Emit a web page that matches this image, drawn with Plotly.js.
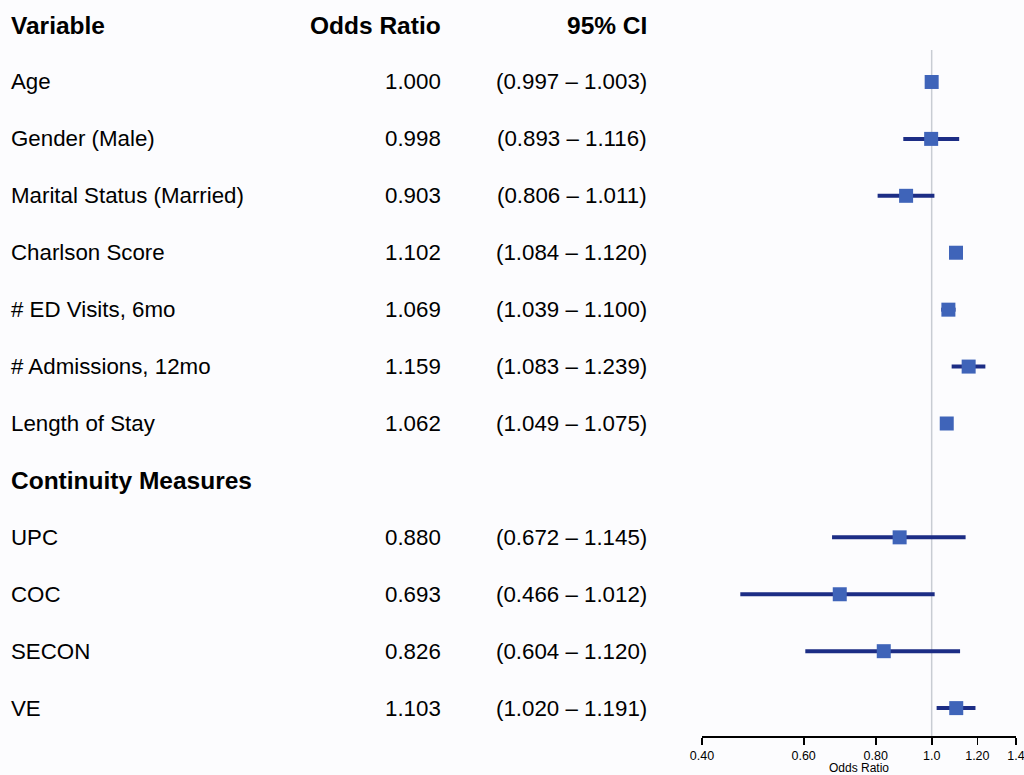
<!DOCTYPE html>
<html>
<head>
<meta charset="utf-8">
<script src="https://cdn.plot.ly/plotly-3.0.1.min.js"></script>
<style>
  html, body { margin: 0; padding: 0; background: #fcfcfe; }
  #chart { width: 1024px; height: 775px; }
</style>
</head>
<body>
<div id="chart"></div>
<script>
// ---- Data ----
const headers = ["Variable", "Odds Ratio", "95% CI"];
const variables = ["Age", "Gender (Male)", "Marital Status (Married)", "Charlson Score",
  "# ED Visits, 6mo", "# Admissions, 12mo", "Length of Stay", "Continuity Measures",
  "UPC", "COC", "SECON", "VE"];
const isSection = [false, false, false, false, false, false, false, true, false, false, false, false];
const oddsRatio = [1.000, 0.998, 0.903, 1.102, 1.069, 1.159, 1.062, null, 0.880, 0.693, 0.826, 1.103];
const ciLow     = [0.997, 0.893, 0.806, 1.084, 1.039, 1.083, 1.049, null, 0.672, 0.466, 0.604, 1.020];
const ciHigh    = [1.003, 1.116, 1.011, 1.120, 1.100, 1.239, 1.075, null, 1.145, 1.012, 1.120, 1.191];
const tickVals  = [0.4, 0.6, 0.8, 1.0, 1.2, 1.4];
const tickText  = ["0.40", "0.60", "0.80", "1.0", "1.20", "1.4"];

// ---- Build ----
const rows = variables.map((_, i) => i + 1);   // row 0 is the header
const fmt = v => v.toFixed(3);

const FONT = "Liberation Sans, Arial, Helvetica, sans-serif";
const annotations = [];
const colX = {variable: 11, or: 441, ci: 647};

function addText(text, x, y, anchor, bold) {
  annotations.push({
    xref: "x2", yref: "y", x: x, y: y, text: bold ? "<b>" + text + "</b>" : text,
    showarrow: false, xanchor: anchor, yanchor: "middle",
    borderpad: 0, borderwidth: 0,
    font: {family: FONT, size: bold ? 24.5 : 22.3, color: "#000000"}
  });
}
addText(headers[0], colX.variable, 0, "left", true);
addText(headers[1], colX.or, 0, "right", true);
addText(headers[2], colX.ci, 0, "right", true);
variables.forEach((v, i) => {
  addText(v, colX.variable, rows[i], "left", isSection[i]);
  if (oddsRatio[i] !== null) {
    addText(fmt(oddsRatio[i]), colX.or, rows[i], "right", false);
    addText("(" + fmt(ciLow[i]) + " \u2013 " + fmt(ciHigh[i]) + ")", colX.ci, rows[i], "right", false);
  }
});

const trace = {
  type: "scatter", mode: "markers",
  x: oddsRatio, y: rows, xaxis: "x", yaxis: "y",
  marker: {symbol: "square", size: 14, color: "#3f64b9", line: {width: 0}},
  error_x: {
    type: "data", symmetric: false,
    array: oddsRatio.map((v, i) => v === null ? null : ciHigh[i] - v),
    arrayminus: oddsRatio.map((v, i) => v === null ? null : v - ciLow[i]),
    color: "#1c2d85", thickness: 4, width: 0
  },
  hoverinfo: "skip", showlegend: false, cliponaxis: false
};

const W = 1016; // plot width (margin l=0, r=8)
const layout = {
  width: 1024, height: 775,
  margin: {l: 0, r: 8, t: 0, b: 39},
  paper_bgcolor: "#fcfcfe", plot_bgcolor: "#fcfcfe",
  showlegend: false,
  xaxis: {
    type: "log", domain: [702 / W, 1],
    range: [Math.log10(0.39995), Math.log10(1.40005)],
    tickvals: tickVals, ticktext: tickText,
    ticks: "outside", ticklen: 7, tickwidth: 1.7, tickcolor: "#000",
    ticklabeloverflow: "allow",
    showline: true, linecolor: "#000", linewidth: 1.7,
    showgrid: false, zeroline: false,
    tickfont: {family: FONT, size: 12.5, color: "#000"},
    title: {text: "Odds Ratio", font: {family: FONT, size: 12, color: "#000"}, standoff: 2},
    automargin: false, anchor: "y", fixedrange: true
  },
  xaxis2: {
    domain: [0, 690 / W], range: [0, 690], visible: false, anchor: "y", fixedrange: true
  },
  yaxis: {
    range: [12.49, -0.44], visible: false, fixedrange: true
  },
  shapes: [{
    type: "line", xref: "x", yref: "y", x0: 1, x1: 1, y0: 0.44, y1: 12.49,
    line: {color: "#c8ccd3", width: 1.5}, layer: "below"
  }],
  annotations: annotations
};

Plotly.newPlot("chart", [trace], layout, {displayModeBar: false, staticPlot: true});
</script>
</body>
</html>
